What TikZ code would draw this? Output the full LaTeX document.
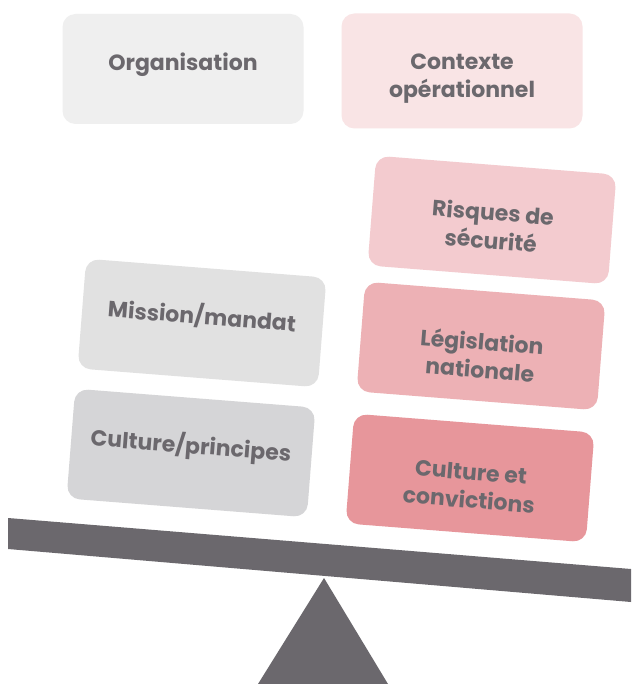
\documentclass[tikz,border=0pt]{standalone}
\usepackage{fontspec}
\setmainfont{Poppins}
\usepackage{tikz}

\definecolor{ink}{HTML}{6B686D}
\definecolor{greyA}{HTML}{EFEFEF}
\definecolor{greyB}{HTML}{E1E1E1}
\definecolor{greyC}{HTML}{D5D5D7}
\definecolor{pinkA}{HTML}{F9E4E5}
\definecolor{pinkB}{HTML}{F3CBCF}
\definecolor{pinkC}{HTML}{EDB1B5}
\definecolor{pinkD}{HTML}{E7969B}

\begin{document}
\begin{tikzpicture}[x=1pt,y=-1pt]
\tikzset{weight/.style = {shape=rectangle, rounded corners=13pt, minimum width=241pt,
  minimum height=110pt}}
\tikzset{tilted/.style = {weight, rotate=-4.5}}
\tikzset{caption/.style = {align=center, text=ink, font=\fontsize{22}{28}\selectfont\bfseries}}
\fill[white] (0,0) rectangle (631,684);
% top boxes
\node[weight, fill=greyA] (orga) at (183,69) {};
\node[weight, fill=pinkA, minimum height=115pt] (ctx) at (462,71) {};
\node[caption] (orga-t) at ([yshift=4pt]orga.center) {Organisation};
\node[caption] (ctx-t) at ([yshift=-8pt]ctx.center) {Contexte\\opérationnel};
% left pan
\node[tilted, fill=greyB] (mission) at (202,323) {};
\node[tilted, fill=greyC] (principes) at (191,453) {};
\node[caption, rotate=-4.5] (mission-t) at ([yshift=7pt]mission.center) {Mission/mandat};
\node[caption, rotate=-4.5] (principes-t) at ([yshift=7pt]principes.center) {Culture/principes};
% right pan
\node[tilted, fill=pinkB] (risques) at (492,220) {};
\node[tilted, fill=pinkC] (legis) at (481,346) {};
\node[tilted, fill=pinkD] (convic) at (470,478) {};
\node[caption, rotate=-4.5] (risques-t) at ([yshift=-6pt]risques.center) {Risques de\\sécurité};
\node[caption, rotate=-4.5] (legis-t) at ([yshift=-9pt]legis.center) {Législation\\nationale};
\node[caption, rotate=-4.5] (convic-t) at ([yshift=-8pt]convic.center) {Culture et\\convictions};
% beam and pivot
\fill[ink] (8,518) -- (631,569) -- (631,602) -- (8,549) -- cycle;
\fill[ink] (324,578) -- (388,684) -- (258,684) -- cycle;
\end{tikzpicture}
\end{document}
